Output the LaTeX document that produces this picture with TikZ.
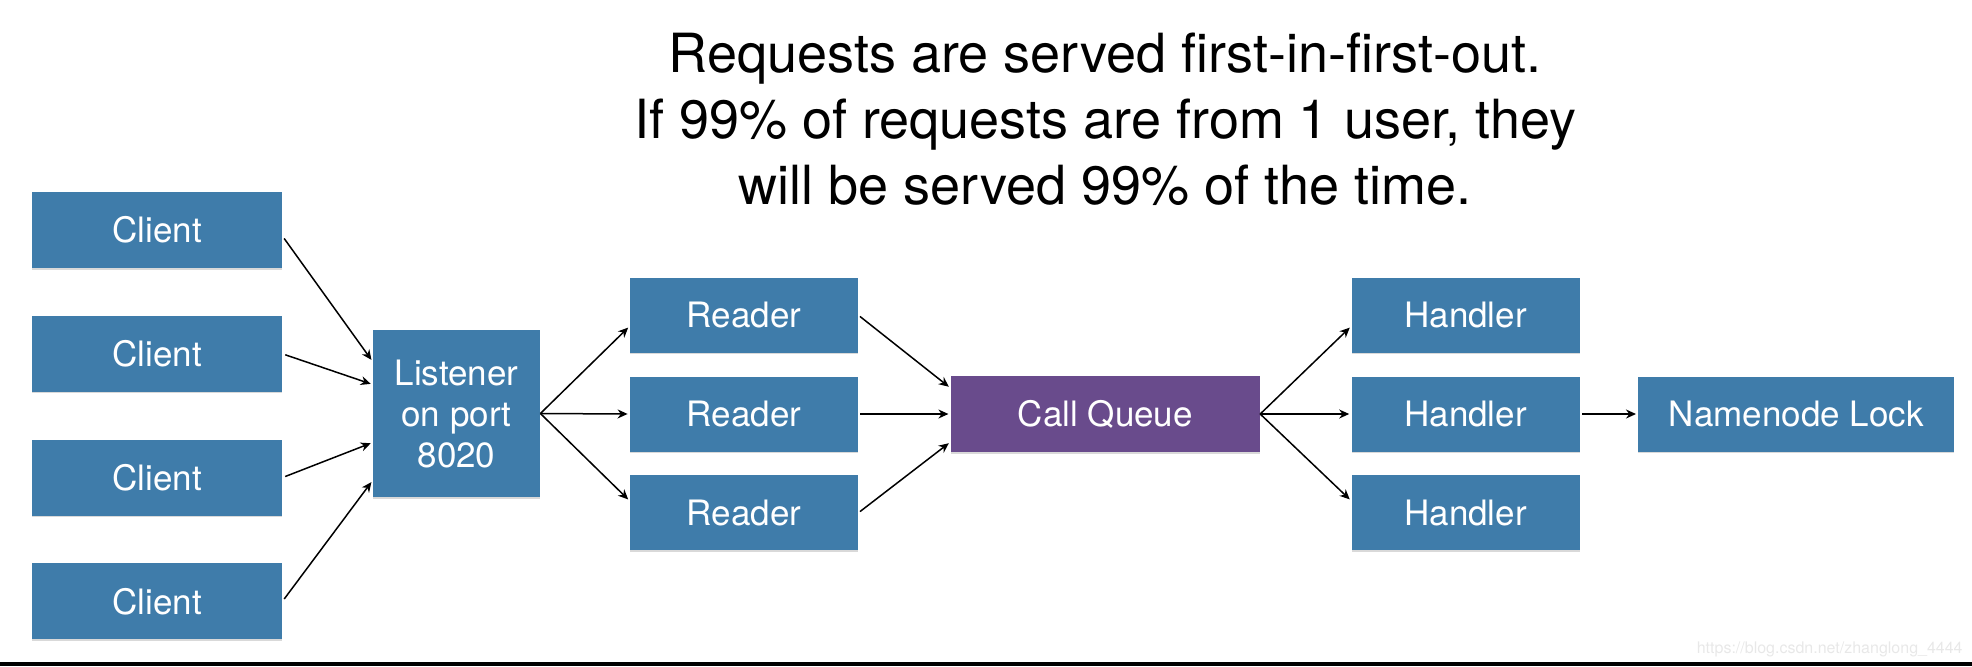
\documentclass[tikz,border=0pt]{standalone}
\usepackage{fontspec}
\setmainfont{TeX Gyre Heros}
\usetikzlibrary{positioning, arrows.meta, shadows}

\definecolor{boxblue}{RGB}{63,124,170}
\definecolor{queuepurple}{RGB}{105,75,140}

\begin{document}
\begin{tikzpicture}[x=0.5pt, y=-0.5pt, >={Stealth[length=5pt, width=4.5pt]},
    box/.style={fill=boxblue, text=white, inner sep=0pt, minimum height=37.5pt,
        font=\fontsize{17.5}{20.5}\selectfont,
        drop shadow={shadow xshift=0pt, shadow yshift=-0.8pt, opacity=0.3}},
    client/.style={box, minimum width=125pt, minimum height=38pt},
    worker/.style={box, minimum width=114pt},
    link/.style={->, line width=0.75pt, shorten <=1pt, shorten >=1pt}]

    \useasboundingbox (0,0) rectangle (1972,666);

    % title
    \node (title) [anchor=north, align=center, inner sep=0pt, font=\fontsize{27}{33}\selectfont] at (1105,33)
        {Requests are served first-in-first-out.\\ If 99\% of requests are from 1 user, they\\ will be served 99\% of the time.};

    % clients and listener
    \node[client] (c1) at (157,230) {Client};
    \node[client, below=23.5pt of c1] (c2) {Client};
    \node[client, below=23.5pt of c2] (c3) {Client};
    \node[client, below=23.5pt of c3] (c4) {Client};
    \node[box, minimum width=83.5pt, minimum height=83.5pt, align=center] (lis) at (456.5,413.5) {Listener\\on port\\8020};

    % readers, queue, handlers
    \node[worker] (r2) at (744,414) {Reader};
    \node[worker, above=11.5pt of r2] (r1) {Reader};
    \node[worker, below=11.5pt of r2] (r3) {Reader};
    \node[box, fill=queuepurple, minimum width=154.5pt, minimum height=38pt, right=46pt of r2] (cq) {Call Queue};
    \node[worker, right=45.5pt of cq] (h2) {Handler};
    \node[worker, above=11.5pt of h2] (h1) {Handler};
    \node[worker, below=11.5pt of h2] (h3) {Handler};
    \node[box, minimum width=158pt, right=29pt of h2] (lock) {Namenode Lock};

    % connectors
    \draw[link, shorten <=1.5pt] ([yshift=-3pt]c1.east) -- ([yshift=26pt]lis.west);
    \draw[link, shorten <=1.5pt] (c2.east) -- ([yshift=14.5pt]lis.west);
    \draw[link, shorten <=1.5pt] (c3.east) -- ([yshift=-14.5pt]lis.west);
    \draw[link, shorten <=1.5pt] (c4.east) -- ([yshift=-33.5pt]lis.west);
    \foreach \r/\s in {r1/-5.5pt, r2/0pt, r3/6pt}
        \draw[link, shorten <=0pt] (lis.east) -- ([yshift=\s]\r.west);
    \draw[link] (r1.east) -- ([yshift=13pt]cq.west);
    \draw[link] (r2.east) -- (cq.west);
    \draw[link] (r3.east) -- ([yshift=-14pt]cq.west);
    \foreach \h/\s in {h1/-5.5pt, h2/0pt, h3/6pt}
        \draw[link, shorten <=0pt] (cq.east) -- ([yshift=\s]\h.west);
    \draw[link] (h2.east) -- (lock.west);

    % watermark and bottom edge
    \node (mark) [anchor=base east, inner sep=0pt, text=black!9, font=\fontsize{8}{8}\selectfont] at (1963,653)
        {https://blog.csdn.net/zhanglong\_4444};
    \fill (0,662) rectangle (1972,666);
\end{tikzpicture}
\end{document}
